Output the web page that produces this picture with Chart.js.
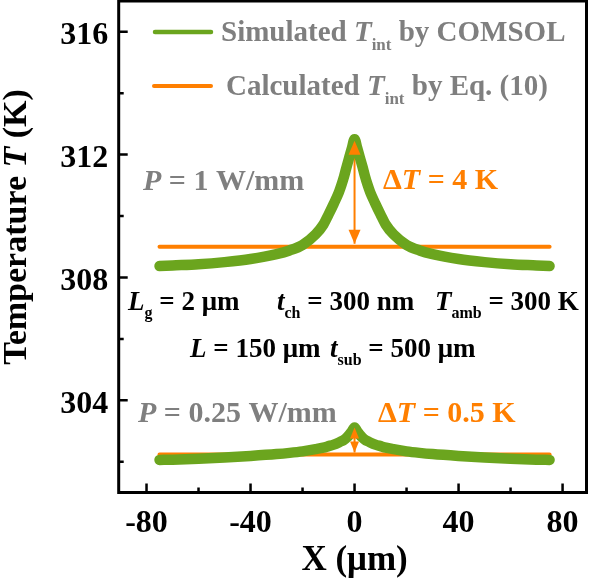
<!DOCTYPE html>
<html>
<head>
<meta charset="utf-8">
<script src="https://cdn.jsdelivr.net/npm/chart.js@4.4.0/dist/chart.umd.min.js"></script>
<style>
    html, body { margin: 0; padding: 0; background: #fff; }
    #wrap { width: 590px; height: 579px; }
</style>
</head>
<body>
<div id="wrap"><canvas id="tempChart" width="590" height="579"></canvas></div>
<script>
// ===== DATA =====
const posX = [-75, -70, -60, -50, -40, -30, -25, -20, -15, -12, -10, -8, -6, -5, -4, -3, -2, -1, 0,
              1, 2, 3, 4, 5, 6, 8, 10, 12, 15, 20, 25, 30, 40, 50, 60, 70, 75];

// simulated T_int by COMSOL, P = 1 W/mm
const simT_1W = [308.37, 308.39, 308.43, 308.50, 308.60, 308.76, 308.88, 309.06, 309.40, 309.72,
                 310.05, 310.40, 310.78, 311.02, 311.30, 311.62, 311.92, 312.22, 312.50,
                 312.22, 311.92, 311.62, 311.30, 311.02, 310.78, 310.40, 310.05, 309.72, 309.40,
                 309.06, 308.88, 308.76, 308.60, 308.50, 308.43, 308.39, 308.37];

// simulated T_int by COMSOL, P = 0.25 W/mm
const simT_025W = [302.06, 302.07, 302.10, 302.14, 302.19, 302.25, 302.29, 302.34, 302.41, 302.46,
                   302.51, 302.56, 302.63, 302.67, 302.72, 302.79, 302.88, 302.99, 303.12,
                   302.99, 302.88, 302.79, 302.72, 302.67, 302.63, 302.56, 302.51, 302.46, 302.41,
                   302.34, 302.29, 302.25, 302.19, 302.14, 302.10, 302.07, 302.06];

// calculated T_int by Eq. (10)
const calcX = [-75, 75];
const calcT_1W = [309.0, 309.0];
const calcT_025W = [302.24, 302.24];

// delta T arrows
const arrowX = [0, 0];
const arrowT_1W = [309.1, 312.45];
const arrowT_025W = [302.3, 303.12];

// ticks (all) and labelled ticks
const xTickValues = [-80, -60, -40, -20, 0, 20, 40, 60, 80];
const yTickValues = [302, 304, 306, 308, 310, 312, 314, 316];
const xTickLabels = [-80, -40, 0, 40, 80];
const yTickLabels = [304, 308, 312, 316];

// ===== STYLE =====
const GREEN = '#6BA51E';
const ORANGE = '#FF7F00';
const GRAY = '#7F7F7F';
const FONT = '"Liberation Serif", "Times New Roman", serif';

function pts(xs, ys) {
    return xs.map((x, i) => ({ x: x, y: ys[i] }));
}

// ===== TEXT HELPERS =====
// runs: [text, flags]  flags: 'i' italic, 's' subscript
function runsWidth(ctx, size, runs) {
    let w = 0;
    runs.forEach(r => {
        const f = r[1] || '';
        const fs = f.includes('s') ? Math.round(size * 0.6) : size;
        ctx.font = (f.includes('i') ? 'italic ' : '') + 'bold ' + fs + 'px ' + FONT;
        w += ctx.measureText(r[0]).width;
    });
    return w;
}

function drawRuns(ctx, x, y, size, color, runs, align) {
    ctx.save();
    ctx.fillStyle = color;
    ctx.textBaseline = 'alphabetic';
    ctx.textAlign = 'left';
    let cx = x;
    if (align === 'center') cx = x - runsWidth(ctx, size, runs) / 2;
    if (align === 'right') cx = x - runsWidth(ctx, size, runs);
    runs.forEach(r => {
        const f = r[1] || '';
        const sub = f.includes('s');
        const fs = sub ? Math.round(size * 0.6) : size;
        ctx.font = (f.includes('i') ? 'italic ' : '') + 'bold ' + fs + 'px ' + FONT;
        ctx.fillText(r[0], cx, y + (sub ? size * 0.3 : 0));
        cx += ctx.measureText(r[0]).width;
    });
    ctx.restore();
}

// ===== ANNOTATIONS (pixel positions, left edge + baseline) =====
const notes = [
    { x: 143, y: 190, size: 30, color: GRAY, runs: [['P', 'i'], [' = 1 W/mm']] },
    { x: 383, y: 189, size: 30, color: ORANGE, runs: [['\u0394'], ['T', 'i'], [' = 4 K']] },
    { x: 128, y: 310, size: 27, color: '#000', runs: [['L', 'i'], ['g', 's'], [' = 2 \u03bcm']] },
    { x: 277, y: 310, size: 27, color: '#000', runs: [['t', 'i'], ['ch', 's'], [' = 300 nm']] },
    { x: 435, y: 310, size: 27, color: '#000', runs: [['T', 'i'], ['amb', 's'], [' = 300 K']] },
    { x: 190, y: 357, size: 27, color: '#000', runs: [['L', 'i'], [' = 150 \u03bcm']] },
    { x: 330, y: 357, size: 27, color: '#000', runs: [['t', 'i'], ['sub', 's'], [' = 500 \u03bcm']] },
    { x: 138, y: 422, size: 30, color: GRAY, runs: [['P', 'i'], [' = 0.25 W/mm']] },
    { x: 378, y: 422, size: 30, color: ORANGE, runs: [['\u0394'], ['T', 'i'], [' = 0.5 K']] }
];

// ===== ARROW HEADS =====
function arrowHead(ctx, x, y, dir, len, half) {
    ctx.beginPath();
    ctx.moveTo(x, y);
    ctx.lineTo(x - half, y - dir * len);
    ctx.lineTo(x + half, y - dir * len);
    ctx.closePath();
    ctx.fill();
}

const decorPlugin = {
    id: 'decor',
    afterDatasetsDraw(chart) {
        const ctx = chart.ctx;
        ctx.save();
        ctx.fillStyle = ORANGE;
        [[4, 14, 6], [5, 11, 4.5]].forEach(([idx, len, half]) => {
            const p = chart.getDatasetMeta(idx).data;
            arrowHead(ctx, p[0].x, p[0].y, 1, len, half);   // pointing down
            arrowHead(ctx, p[1].x, p[1].y, -1, len, half);  // pointing up
        });
        ctx.restore();
    },
    afterDraw(chart) {
        const ctx = chart.ctx;
        const a = chart.chartArea;
        const xs = chart.scales.x, ys = chart.scales.y;

        // frame
        ctx.save();
        ctx.strokeStyle = '#000';
        ctx.lineWidth = 3;
        ctx.strokeRect(a.left, a.top, a.right - a.left, a.bottom - a.top);

        // inward tick marks
        ctx.lineWidth = 2.5;
        ctx.beginPath();
        xs.ticks.forEach(t => {
            const px = xs.getPixelForValue(t.value);
            const len = xTickLabels.includes(t.value) ? 9 : 5;
            ctx.moveTo(px, a.bottom);
            ctx.lineTo(px, a.bottom - len);
        });
        ys.ticks.forEach(t => {
            const py = ys.getPixelForValue(t.value);
            const len = yTickLabels.includes(t.value) ? 9 : 5;
            ctx.moveTo(a.left, py);
            ctx.lineTo(a.left + len, py);
        });
        ctx.stroke();
        ctx.restore();

        // tick labels from the scales
        xs.ticks.forEach(t => {
            if (!xTickLabels.includes(t.value)) return;
            drawRuns(ctx, xs.getPixelForValue(t.value), 532, 32, '#000', [[String(t.value)]], 'center');
        });
        ys.ticks.forEach(t => {
            if (!yTickLabels.includes(t.value)) return;
            drawRuns(ctx, a.left - 10.5, ys.getPixelForValue(t.value) + 12.5, 32, '#000', [[String(t.value)]], 'right');
        });

        // legend
        ctx.save();
        ctx.lineCap = 'round';
        ctx.strokeStyle = GREEN;
        ctx.lineWidth = 4.5;
        ctx.beginPath(); ctx.moveTo(155, 32); ctx.lineTo(211, 32); ctx.stroke();
        ctx.strokeStyle = ORANGE;
        ctx.lineWidth = 4;
        ctx.beginPath(); ctx.moveTo(154, 86); ctx.lineTo(211, 86); ctx.stroke();
        ctx.restore();
        drawRuns(ctx, 221, 41, 29, GRAY, [['Simulated '], ['T', 'i'], ['int', 's'], [' by COMSOL']]);
        drawRuns(ctx, 226, 95, 29, GRAY, [['Calculated '], ['T', 'i'], ['int', 's'], [' by Eq. (10)']]);

        // in-plot notes
        notes.forEach(n => drawRuns(ctx, n.x, n.y, n.size, n.color, n.runs));

        // axis titles
        drawRuns(ctx, 354.6, 570, 35, '#000', [['X (\u03bcm)']], 'center');
        ctx.save();
        ctx.translate(26, 227);
        ctx.rotate(-Math.PI / 2);
        drawRuns(ctx, 0, 0, 34, '#000', [['Temperature '], ['T', 'i'], [' (K)']], 'center');
        ctx.restore();
    }
};

// ===== CHART =====
new Chart(document.getElementById('tempChart'), {
    type: 'line',
    data: {
        datasets: [
            { label: 'sim1', data: pts(posX, simT_1W), borderColor: GREEN, borderWidth: 10.5,
              cubicInterpolationMode: 'monotone', borderCapStyle: 'round', borderJoinStyle: 'round' },
            { label: 'sim025', data: pts(posX, simT_025W), borderColor: GREEN, borderWidth: 10.5,
              cubicInterpolationMode: 'monotone', borderCapStyle: 'round', borderJoinStyle: 'round' },
            { label: 'calc1', data: pts(calcX, calcT_1W), borderColor: ORANGE, borderWidth: 4,
              borderCapStyle: 'round' },
            { label: 'calc025', data: pts(calcX, calcT_025W), borderColor: ORANGE, borderWidth: 4,
              borderCapStyle: 'round' },
            { label: 'arrow1', data: pts(arrowX, arrowT_1W), borderColor: ORANGE, borderWidth: 2 },
            { label: 'arrow025', data: pts(arrowX, arrowT_025W), borderColor: ORANGE, borderWidth: 2 }
        ]
    },
    options: {
        responsive: false,
        animation: false,
        events: [],
        layout: { padding: { top: 1, right: 3.5, left: 0, bottom: 0 } },
        elements: { point: { radius: 0 }, line: { fill: false } },
        plugins: { legend: { display: false }, tooltip: { enabled: false } },
        scales: {
            x: {
                type: 'linear', min: -90.7, max: 89.2,
                afterFit: s => { s.height = 86.5; },
                afterBuildTicks: s => { s.ticks = xTickValues.map(v => ({ value: v })); },
                grid: { display: false, drawTicks: false },
                border: { display: false },
                ticks: { display: false }
            },
            y: {
                type: 'linear', min: 301, max: 317,
                afterFit: s => { s.width = 118.7; },
                afterBuildTicks: s => { s.ticks = yTickValues.map(v => ({ value: v })); },
                grid: { display: false, drawTicks: false },
                border: { display: false },
                ticks: { display: false }
            }
        }
    },
    plugins: [decorPlugin]
});
</script>
</body>
</html>
